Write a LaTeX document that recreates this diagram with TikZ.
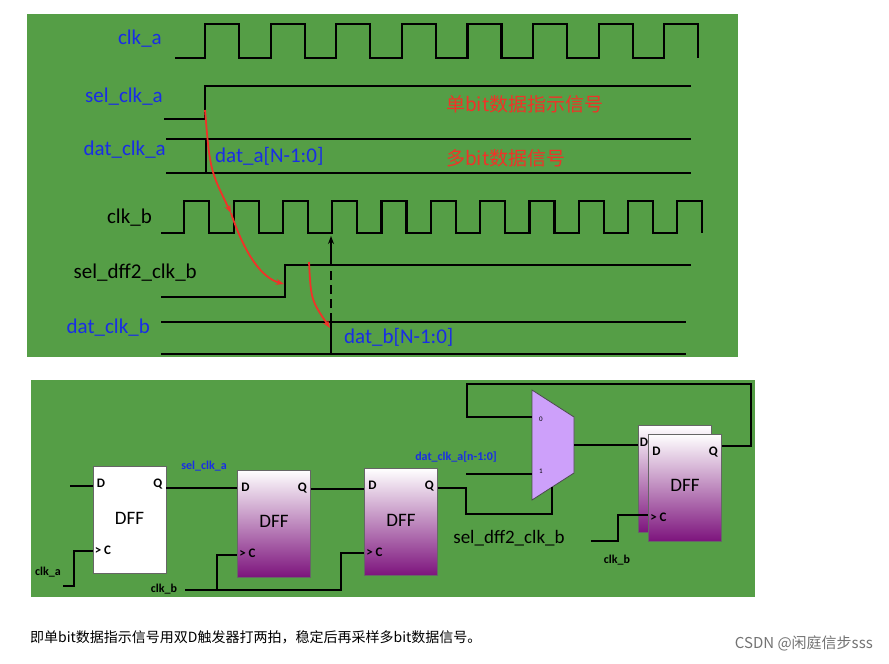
\documentclass[tikz,border=0pt]{standalone}
\usepackage{fontspec}
\setmainfont{Carlito}
\newfontfamily\cjk{Noto Sans CJK SC}
\usetikzlibrary{arrows.meta}
\definecolor{bg}{RGB}{85,158,70}
\definecolor{lblue}{RGB}{25,45,230}
\definecolor{lred}{RGB}{240,50,40}
\definecolor{dpurp}{RGB}{125,20,125}
\definecolor{muxc}{RGB}{205,160,250}
\tikzset{
 wave/.style={line width=2.2pt,black},
 wire/.style={line width=1.6pt,black},
 lbl/.style={font=\fontsize{21}{24}\selectfont,anchor=east,inner sep=0},
 dff/.style={draw=black!60,line width=0.8pt,minimum width=73pt,minimum height=107pt,inner sep=0,top color=white,bottom color=dpurp},
 pin/.style={font=\bfseries\fontsize{13}{14}\selectfont,inner sep=0},
 redarr/.style={lred,line width=1.8pt,-{Stealth[length=8pt]}}
}
\begin{document}
\begin{tikzpicture}[x=1pt,y=-1pt]
\useasboundingbox (0,0) rectangle (889,664);
\fill[white] (0,0) rectangle (889,664);
\fill[bg] (27,14) rectangle (738,357);
\fill[bg] (31,380) rectangle (755,597);
% labels top
\node[lbl,text=lblue] (la) at (162,39) {clk\_a};
\node[lbl,text=lblue] (lsa) at (163,97) {sel\_clk\_a};
\node[lbl,text=lblue] (lda) at (166,150) {dat\_clk\_a};
\node[lbl] (lb) at (152,218) {clk\_b};
\node[lbl] (lsb) at (197,273) {sel\_dff2\_clk\_b};
\node[lbl,text=lblue] (ldb) at (150,328) {dat\_clk\_b};
% clk_a
\draw[wave] (175,58) \foreach \i in {0,...,7}{ -- ({205+65.6*\i},58) -- ++(0,-34) -- ++(34,0) -- ++(0,34)};
% sel_clk_a
\draw[wave] (164,119) -- (205,119) -- (205,86) -- (691,86);
% dat_clk_a
\draw[wave] (166,139) -- (691,139);
\draw[wave] (166,173) -- (691,173);
\draw[wave] (206,139) -- (206,173);
\node[lbl,anchor=west,text=lblue] (dta) at (215,156) {dat\_a[N-1:0]};
\node[lbl,anchor=west,text=lred] (r1) at (446,104) {\cjk\fontsize{19}{22}\selectfont 单bit数据指示信号};
\node[lbl,anchor=west,text=lred] (r2) at (446,158) {\cjk\fontsize{19}{22}\selectfont 多bit数据信号};
% clk_b
\draw[wave] (161,233) \foreach \i in {0,...,10}{ -- ({184.3+49.3*\i},233) -- ++(0,-32) -- ++(25,0) -- ++(0,32)};
% sel_dff2
\draw[wave] (161,297) -- (285,297) -- (285,265) -- (691,265);
% dat_clk_b
\draw[wave] (161,322) -- (686,322);
\draw[wave] (161,354) -- (686,354);
\draw[wave] (331,322) -- (331,354);
\node[lbl,anchor=west,text=lblue] (dtb) at (344,337) {dat\_b[N-1:0]};
% dashed marker
\draw[line width=1.6pt,dash pattern=on 9pt off 5pt] (331,322) -- (331,268);
\draw[line width=1.6pt,-{Stealth[length=8pt]}] (331,266) -- (331,236);
% red arrows
\draw[redarr] (205,110) .. controls (210,170) .. (231,213);
\draw[redarr] (231,213) .. controls (245,255) and (262,278) .. (284,284);
\draw[redarr] (309,262) .. controls (311,300) .. (330,328);
% bottom circuit
\node[dff,top color=white,bottom color=white,fill=white!95!black] (d1) at (129.5,520) {};
\node[dff] (d2) at (274,523.5) {};
\node[dff] (d3) at (401,522) {};
\node[dff] (d4b) at (674.5,479) {};
\node[dff] (d4) at (685,487.5) {};
\foreach \n in {d1,d2,d3,d4}{
 \node[pin,anchor=north west] (\n D) at ([xshift=4pt,yshift=-13pt]\n.north west) {D};
 \node[pin,anchor=north east] (\n Q) at ([xshift=-4pt,yshift=-13pt]\n.north east) {Q};
 \node[font=\fontsize{19}{21}\selectfont,inner sep=0] (\n T) at ([yshift=2pt]\n.center) {DFF};
 \node[pin,anchor=west] (\n C) at ([xshift=2pt,yshift=-30pt]\n.west) {> C};
}
\node[pin,anchor=north west] (d4bD) at ([xshift=2pt,yshift=-13pt]d4b.north west) {D};
% mux
\draw[fill=muxc,draw=black!70,line width=0.8pt] (532,390) -- (574,417) -- (574,473) -- (532,500) -- cycle;
\coordinate (m0) at (532,417);
\coordinate (m1) at (532,474);
\coordinate (mo) at (574,445);
\coordinate (ms) at (552,487);
\node[font=\fontsize{7}{8}\selectfont,inner sep=0] (z0) at (541,419) {0};
\node[font=\fontsize{7}{8}\selectfont,inner sep=0] (z1) at (541,471) {1};
% wires
\draw[wire] (70,486) -- (d1.west |- 0,486);
\draw[wire] (d1.east |- 0,488) -- (d2.west |- 0,488);
\node[font=\bfseries\fontsize{12}{13}\selectfont,text=lblue,inner sep=0] (ls) at (204,466) {sel\_clk\_a};
\coordinate (ca) at (63,586);
\draw[wire] (ca) -- (74,586) -- (74,551) -- (d1.west |- 0,551);
\node[font=\bfseries\fontsize{12}{13}\selectfont,inner sep=0] (lca) at (48,572) {clk\_a};
\coordinate (cb) at (185,590);
\draw[wire] (cb) -- (341,590) -- (341,553) -- (d3.west |- 0,553);
\draw[wire] (217,590) -- (217,555) -- (d2.west |- 0,555);
\node[font=\bfseries\fontsize{12}{13}\selectfont,inner sep=0] (lcb) at (164,589) {clk\_b};
\draw[wire] (d2.east |- 0,489) -- (d3.west |- 0,489);
\draw[wire] (d3.east |- 0,488) -- (466,488) -- (466,514) -- (552,514) -- (ms);
\node[font=\fontsize{19}{21}\selectfont,inner sep=0] (lsel) at (509,538) {sel\_dff2\_clk\_b};
\node[font=\bfseries\fontsize{12}{13}\selectfont,text=lblue,inner sep=0] (ldat) at (456,457) {dat\_clk\_a[n-1:0]};
\draw[wire] (466,474) -- (m1);
\draw[wire] (d4.east |- 0,446) -- (751,446) -- (751,384) -- (467,384) -- (467,417) -- (m0);
\draw[wire] (mo) -- (d4b.west |- 0,445);
\draw[wire] (591,541) -- (618,541) -- (618,515) -- (d4.west |- 0,515);
\node[font=\bfseries\fontsize{12}{13}\selectfont,inner sep=0] (lcb2) at (617,560) {clk\_b};
% caption
\node[anchor=west,inner sep=0,font=\cjk\fontsize{14}{16}\selectfont] (cap) at (30,637) {即单bit数据指示信号用双D触发器打两拍，稳定后再采样多bit数据信号。};
\node[anchor=east,inner sep=0,text=black!55,font=\cjk\fontsize{15}{17}\selectfont] (wm) at (873,643) {CSDN @闲庭信步sss};
\end{tikzpicture}
\end{document}
